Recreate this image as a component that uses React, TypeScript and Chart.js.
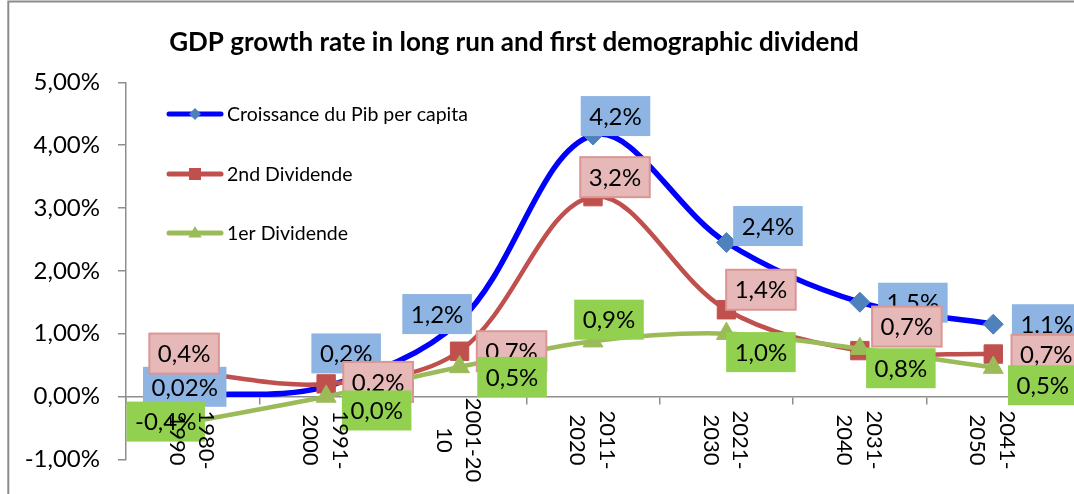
import React, { useEffect, useRef } from "react";
import { Chart, registerables } from "chart.js";

Chart.register(...registerables);

// ---------- data ----------
const TITLE = "GDP growth rate in long run and first demographic dividend";
const CATEGORIES = ["1980-1990", "1991-2000", "2001-2010", "2011-2020", "2021-2030", "2031-2040", "2041-2050"];
const CATEGORY_TICK_LINES = [
  ["1980-", "1990"],
  ["1991-", "2000"],
  ["2001-20", "10"],
  ["2011-", "2020"],
  ["2021-", "2030"],
  ["2031-", "2040"],
  ["2041-", "2050"],
];
const SERIES_NAMES = ["Croissance du Pib per capita", "2nd Dividende", "1er Dividende"];
const PIB_VALUES = [0.02, 0.16, 1.2, 4.16, 2.45, 1.5, 1.15];
const DIV2_VALUES = [0.38, 0.2, 0.72, 3.18, 1.38, 0.73, 0.675];
const DIV1_VALUES = [-0.4, 0.0, 0.47, 0.88, 1.0, 0.76, 0.46];
const PIB_LABELS = ["0,02%", "0,2%", "1,2%", "4,2%", "2,4%", "1,5%", "1.1%"];
const DIV2_LABELS = ["0,4%", "0.2%", "0,7%", "3,2%", "1,4%", "0,7%", "0,7%"];
const DIV1_LABELS = ["-0,4%", "0,0%", "0,5%", "0,9%", "1,0%", "0,8%", "0,5%"];
const Y_MIN = -1;
const Y_MAX = 5;
const Y_STEP = 1;

// ---------- style / layout ----------
const FONT = "Lato, 'Open Sans', sans-serif";
const BLUE_LINE = "#0000FF";
const BLUE_MARK = "#4F81BD";
const RED = "#C0504D";
const GREEN = "#9BBB59";
const AXIS_GRAY = "#8E8E8E";

// data-label box centre offsets from their point (px)
const PIB_LABEL_OFFSETS = [[-8, -8.4], [20, -33], [-22.5, -7], [22.5, -19], [41.5, -16.5], [53, 0.5], [53.5, 0]];
const DIV2_LABEL_OFFSETS = [[-8.6, -19], [52, -2], [52, 0], [22, -19.5], [34.5, -20], [47, -24], [53, 0.7]];
const DIV1_LABEL_OFFSETS = [[-27, 0], [50.5, 14], [52.5, 10], [16, -21.5], [34.5, 18.5], [41, 19.5], [49.5, 17.7]];

const LEGEND_ROWS_Y = [114, 174, 233];

function drawMarker(ctx: CanvasRenderingContext2D, style: string, x: number, y: number, r: number) {
  ctx.beginPath();
  if (style === "rectRot") {
    ctx.moveTo(x, y - r);
    ctx.lineTo(x + r, y);
    ctx.lineTo(x, y + r);
    ctx.lineTo(x - r, y);
  } else if (style === "rect") {
    ctx.rect(x - r, y - r, 2 * r, 2 * r);
  } else {
    ctx.moveTo(x, y - r);
    ctx.lineTo(x + r * 0.95, y + r * 0.65);
    ctx.lineTo(x - r * 0.95, y + r * 0.65);
  }
  ctx.closePath();
  ctx.fill();
}

const overlayPlugin = {
  id: "overlay",
  beforeDraw(chart: any) {
    const ctx = chart.ctx as CanvasRenderingContext2D;
    ctx.save();
    ctx.strokeStyle = "#8C8C8C";
    ctx.lineWidth = 2;
    ctx.beginPath();
    ctx.moveTo(8.3, 2000);
    ctx.lineTo(8.3, 1.5);
    ctx.lineTo(3000, 1.5);
    ctx.stroke();
    ctx.restore();
  },
  afterDatasetsDraw(chart: any) {
    const ctx = chart.ctx as CanvasRenderingContext2D;
    const groups = [
      { ds: 0, labels: PIB_LABELS, offsets: PIB_LABEL_OFFSETS, bg: "#8DB4E2", border: "" },
      { ds: 1, labels: DIV2_LABELS, offsets: DIV2_LABEL_OFFSETS, bg: "#E6B9B8", border: "#D99694" },
      { ds: 2, labels: DIV1_LABELS, offsets: DIV1_LABEL_OFFSETS, bg: "#92D050", border: "" },
    ];
    ctx.save();
    ctx.font = `24px ${FONT}`;
    ctx.textAlign = "center";
    ctx.textBaseline = "middle";
    for (const g of groups) {
      const meta = chart.getDatasetMeta(g.ds);
      meta.data.forEach((pt: any, i: number) => {
        const cx = pt.x + g.offsets[i][0];
        const cy = pt.y + g.offsets[i][1];
        const w = ctx.measureText(g.labels[i]).width + 17;
        const h = 40;
        ctx.fillStyle = g.bg;
        ctx.fillRect(cx - w / 2, cy - h / 2, w, h);
        if (g.border) {
          ctx.strokeStyle = g.border;
          ctx.lineWidth = 2;
          ctx.strokeRect(cx - w / 2, cy - h / 2, w, h);
        }
        ctx.fillStyle = "#000";
        ctx.fillText(g.labels[i], cx, cy + 1);
      });
    }
    // legend
    const legendItems = [
      { color: BLUE_LINE, mark: BLUE_MARK, style: "rectRot", r: 6 },
      { color: RED, mark: RED, style: "rect", r: 6 },
      { color: GREEN, mark: GREEN, style: "triangle", r: 7 },
    ];
    ctx.font = `19.5px ${FONT}`;
    ctx.textAlign = "left";
    legendItems.forEach((it, i) => {
      const y = LEGEND_ROWS_Y[i];
      ctx.strokeStyle = it.color;
      ctx.lineWidth = 5;
      ctx.lineCap = "round";
      ctx.beginPath();
      ctx.moveTo(169, y);
      ctx.lineTo(221, y);
      ctx.stroke();
      ctx.fillStyle = it.mark;
      drawMarker(ctx, it.style, 195, y, it.r);
      ctx.fillStyle = "#000";
      ctx.fillText(SERIES_NAMES[i], 227, y + 1);
    });
    ctx.restore();
  },
  afterDraw(chart: any) {
    const ctx = chart.ctx as CanvasRenderingContext2D;
    const xs = chart.scales.x;
    ctx.save();
    ctx.fillStyle = "#000";
    ctx.font = `22px ${FONT}`;
    ctx.textAlign = "center";
    ctx.textBaseline = "middle";
    CATEGORY_TICK_LINES.forEach((lines, i) => {
      const x = xs.getPixelForValue(i);
      ctx.save();
      ctx.translate(x, 440);
      ctx.rotate(Math.PI / 2);
      const gap = 29.5;
      const n = lines.length;
      lines.forEach((ln, k) => {
        ctx.fillText(ln, 0, (k - (n - 1) / 2) * gap + 1);
      });
      ctx.restore();
    });
    // title
    ctx.font = `bold 26px ${FONT}`;
    ctx.textBaseline = "alphabetic";
    ctx.fillText(TITLE, 514, 51);
    ctx.restore();
  },
};

export default function App() {
  const ref = useRef<HTMLCanvasElement | null>(null);
  useEffect(() => {
    if (!ref.current) return;
    const chart = new Chart(ref.current, {
      type: "line",
      data: {
        labels: CATEGORIES,
        datasets: [
          {
            label: SERIES_NAMES[0],
            data: PIB_VALUES,
            borderColor: BLUE_LINE,
            borderWidth: 5.5,
            pointStyle: "rectRot",
            pointRadius: 10,
            pointBackgroundColor: BLUE_MARK,
            pointBorderColor: BLUE_MARK,
            pointBorderWidth: 1,
            tension: 0.35,
            fill: false,
            order: 2,
          },
          {
            label: SERIES_NAMES[1],
            data: DIV2_VALUES,
            borderColor: RED,
            borderWidth: 4.5,
            pointStyle: "rect",
            pointRadius: 13,
            pointBackgroundColor: RED,
            pointBorderColor: RED,
            pointBorderWidth: 1,
            tension: 0.35,
            fill: false,
            order: 1,
          },
          {
            label: SERIES_NAMES[2],
            data: DIV1_VALUES,
            borderColor: GREEN,
            borderWidth: 4.5,
            pointStyle: "triangle",
            pointRadius: 11.5,
            pointBackgroundColor: GREEN,
            pointBorderColor: GREEN,
            pointBorderWidth: 1,
            tension: 0.35,
            fill: false,
            order: 0,
          },
        ],
      },
      options: {
        responsive: false,
        animation: false,
        devicePixelRatio: 1,
        layout: { padding: { left: 0, right: 14, top: 82.3, bottom: 34.7 } },
        plugins: {
          legend: { display: false },
          title: { display: false },
          tooltip: { enabled: false },
        },
        scales: {
          x: {
            type: "category",
            position: { y: 0 } as any,
            offset: true,
            ticks: { display: false },
            grid: {
              offset: true,
              drawOnChartArea: false,
              drawTicks: true,
              tickLength: 7,
              color: AXIS_GRAY,
              lineWidth: 1.5,
            },
            border: { display: true, color: AXIS_GRAY, width: 1.5 },
          },
          y: {
            min: Y_MIN,
            max: Y_MAX,
            ticks: {
              stepSize: Y_STEP,
              padding: 18,
              color: "#000",
              font: { family: FONT, size: 24 },
              callback: (v: any) => Number(v).toFixed(2).replace(".", ",") + "%",
            },
            grid: {
              drawOnChartArea: false,
              drawTicks: true,
              tickLength: 8,
              color: AXIS_GRAY,
              lineWidth: 1.5,
            },
            border: { display: true, color: AXIS_GRAY, width: 1.5 },
            afterFit: (scale: any) => {
              scale.width = 126;
            },
          },
        },
      },
      plugins: [overlayPlugin],
    });
    return () => chart.destroy();
  }, []);
  return (
    <div style={{ position: "absolute", left: 0, top: 0, width: 1074, height: 494, background: "#fff" }}>
      <canvas ref={ref} width={1074} height={494} style={{ display: "block" }} />
    </div>
  );
}
